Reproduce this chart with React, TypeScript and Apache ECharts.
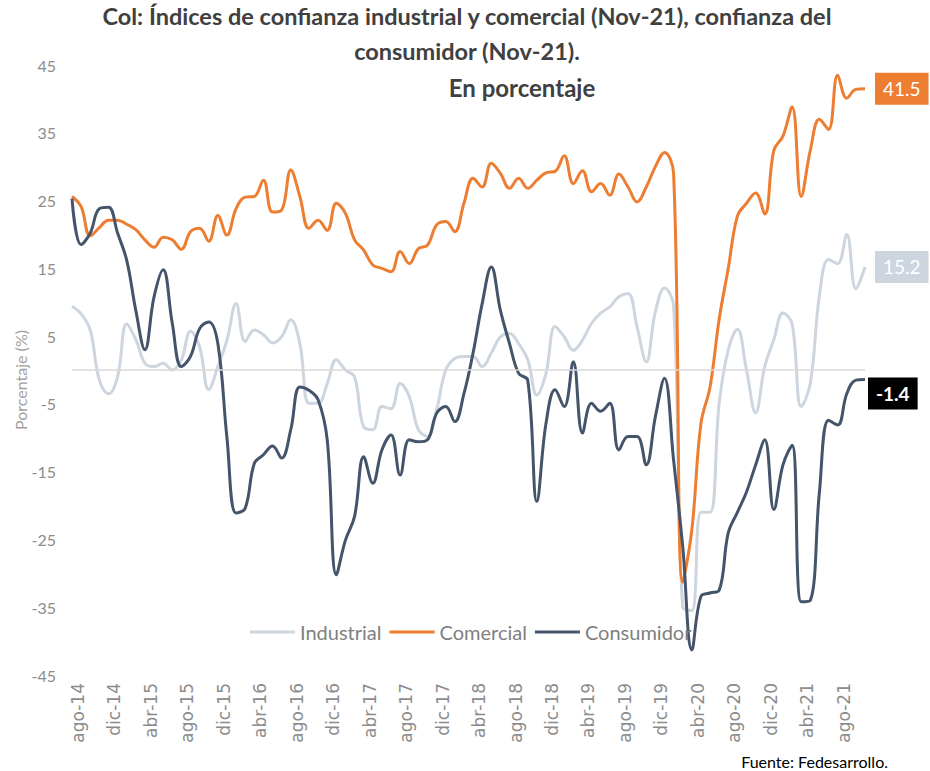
import React, { useEffect, useRef } from "react";
import * as echarts from "echarts";

const MONTHS = ["ene", "feb", "mar", "abr", "may", "jun", "jul", "ago", "sep", "oct", "nov", "dic"];
// ago-14 ... nov-21 (88 months)
const categories: string[] = [];
for (let k = 0; k < 88; k++) {
  const m = (7 + k) % 12;
  const y = 14 + Math.floor((7 + k) / 12);
  categories.push(`${MONTHS[m]}-${y}`);
}

const yTicks = [-45, -35, -25, -15, -5, 5, 15, 25, 35, 45];

const industrial = [
  9.4, 8.3, 5.9, -1.5, -3.5, -1.0, 6.8, 4.5, 1.0, 0.5,
  1.0, 0.0, 1.5, 5.7, 3.4, -2.9, 0.5, 4.4, 9.8, 4.2,
  5.9, 5.2, 4.0, 4.9, 7.4, 3.9, -4.9, -4.9, -2.0, 1.5,
  0.0, -1.0, -8.4, -8.8, -5.4, -5.7, -2.0, -3.9, -8.8, -9.8,
  -5.9, 0.0, 1.7, 2.0, 2.0, 0.5, 2.5, 4.9, 5.4, 3.9,
  1.5, -3.7, -0.5, 6.4, 4.9, 2.9, 4.4, 6.9, 8.4, 9.3,
  10.8, 11.3, 6.3, 1.2, 8.6, 12.1, 9.5, -35.0, -35.5, -21.0,
  -21.0, -5.0, 3.0, 6.0, 0.0, -6.3, 0.5, 4.5, 8.4, 6.8,
  -5.4, -2.0, 11.0, 16.3, 15.7, 20.0, 12.0, 15.2,
];

const comercial = [
  25.6, 24.1, 19.8, 21.0, 22.1, 22.1, 21.5, 20.7, 19.2, 18.1,
  19.6, 19.2, 17.8, 20.4, 20.9, 19.0, 22.8, 19.9, 23.8, 25.5,
  25.6, 28.0, 23.3, 23.6, 29.5, 25.6, 20.9, 22.1, 20.6, 24.6,
  23.1, 19.2, 17.7, 15.5, 15.0, 14.5, 17.5, 15.7, 17.9, 18.4,
  21.4, 21.9, 20.4, 24.6, 28.3, 27.0, 30.5, 29.0, 26.8, 28.3,
  26.8, 28.0, 29.1, 29.3, 31.6, 27.5, 29.4, 26.3, 27.5, 25.8,
  28.9, 27.0, 24.8, 27.0, 30.0, 32.1, 29.0, -31.3, -23.6, -7.9,
  -2.5, 7.5, 15.0, 22.7, 24.6, 26.1, 23.0, 32.4, 34.5, 38.8,
  25.6, 32.4, 37.0, 35.5, 43.5, 40.1, 41.4, 41.5,
];

const consumidor = [
  25.3, 18.5, 20.2, 23.8, 24.0, 20.2, 16.2, 8.8, 3.0, 10.8,
  14.8, 6.9, 0.5, 2.0, 6.1, 7.1, 3.9, -10.0, -21.1, -20.4,
  -13.8, -12.5, -11.2, -13.0, -8.8, -2.5, -3.0, -4.4, -10.3, -30.2,
  -25.1, -21.6, -12.8, -16.7, -11.8, -9.6, -15.5, -10.3, -10.6, -10.3,
  -6.4, -5.4, -7.6, -3.5, 2.5, 9.8, 15.2, 8.8, 3.9, -0.5,
  -1.5, -19.4, -7.9, -2.9, -5.4, 1.2, -9.3, -4.9, -6.1, -4.9,
  -11.8, -9.8, -9.8, -14.0, -6.9, -1.2, -13.3, -26.0, -41.3, -33.4,
  -32.9, -32.5, -24.0, -21.0, -18.0, -14.0, -10.3, -20.6, -14.0, -11.1,
  -34.2, -34.0, -18.0, -7.4, -8.1, -3.5, -1.5, -1.4,
];

const COLORS = { industrial: "#CDD5DF", comercial: "#ED7D31", consumidor: "#44546A" };
const FONT = "Lato, 'Noto Sans', sans-serif";

export default function App() {
  const ref = useRef<HTMLDivElement>(null);
  useEffect(() => {
    if (!ref.current) return;
    const chart = echarts.init(ref.current, null, { renderer: "svg" });
    const endLabel = (bg: string, extra: any = {}) => ({
      show: true,
      formatter: (p: any) => Number(p.value).toFixed(1),
      color: "#ffffff",
      backgroundColor: bg,
      padding: [7, 8, 6, 8],
      fontSize: 19,
      fontFamily: FONT,
      distance: 10,
      ...extra,
    });
    chart.setOption({
      animation: false,
      backgroundColor: "#ffffff",
      textStyle: { fontFamily: FONT },
      grid: { left: 72, right: 65, top: 65, bottom: 96 },
      legend: {
        data: ["Industrial", "Comercial", "Consumidor"],
        left: 245,
        top: 617,
        icon: "rect",
        itemWidth: 45,
        itemHeight: 3,
        itemGap: 8,
        textStyle: { fontSize: 20, color: "#808080", fontFamily: FONT },
      },
      xAxis: {
        type: "category",
        data: categories,
        boundaryGap: false,
        axisLine: { show: false },
        axisTick: { show: false },
        splitLine: { show: false },
        axisLabel: {
          interval: 3,
          rotate: 90,
          margin: 8,
          fontSize: 17,
          lineHeight: 12,
          verticalAlign: "top",
          color: "#8c8c8c",
          fontFamily: "'DejaVu Sans', sans-serif",
        },
      },
      yAxis: {
        type: "value",
        min: -45,
        max: 45,
        interval: 10,
        axisLine: { show: false },
        axisTick: { show: false },
        splitLine: { show: false },
        axisLabel: { fontSize: 16, color: "#8c8c8c", margin: 16, fontFamily: FONT },
      },
      series: [
        {
          name: "Industrial",
          type: "line",
          data: industrial,
          smooth: 0.4,
          showSymbol: false,
          symbol: "none",
          lineStyle: { width: 3, color: COLORS.industrial },
          itemStyle: { color: COLORS.industrial },
          endLabel: endLabel(COLORS.industrial),
          markLine: {
            silent: true,
            symbol: "none",
            label: { show: false },
            lineStyle: { color: "#D9D9D9", width: 1.5, type: "solid" },
            data: [{ yAxis: 0 }],
          },
        },
        {
          name: "Comercial",
          type: "line",
          data: comercial,
          smooth: 0.4,
          showSymbol: false,
          symbol: "none",
          lineStyle: { width: 3, color: COLORS.comercial },
          itemStyle: { color: COLORS.comercial },
          endLabel: endLabel(COLORS.comercial),
        },
        {
          name: "Consumidor",
          type: "line",
          data: consumidor,
          smooth: 0.4,
          showSymbol: false,
          symbol: "none",
          lineStyle: { width: 3, color: COLORS.consumidor },
          itemStyle: { color: COLORS.consumidor },
          endLabel: endLabel("#000000", { fontWeight: "bold", distance: 3, offset: [0, 14] }),
        },
      ],
      graphic: [
        {
          type: "text",
          x: 467,
          y: -2,
          style: {
            text: "Col: Índices de confianza industrial y comercial (Nov-21), confianza del\nconsumidor (Nov-21).",
            textAlign: "center",
            fill: "#404040",
            font: `bold 23.5px ${FONT}`,
            lineHeight: 35,
          },
        },
        {
          type: "text",
          x: 522,
          y: 75,
          style: {
            text: "En porcentaje",
            textAlign: "center",
            fill: "#404040",
            font: `bold 24px ${FONT}`,
          },
        },
        {
          type: "text",
          x: 20,
          y: 380,
          rotation: Math.PI / 2,
          style: {
            text: "Porcentaje (%)",
            textAlign: "center",
            textVerticalAlign: "middle",
            fill: "#a0a0a0",
            font: `16px ${FONT}`,
          },
        },
        {
          type: "text",
          x: 888,
          y: 753,
          style: {
            text: "Fuente: Fedesarrollo.",
            textAlign: "right",
            fill: "#000000",
            font: `16px ${FONT}`,
          },
        },
      ],
    });
    return () => chart.dispose();
  }, []);
  return (
    <div
      ref={ref}
      style={{ position: "absolute", left: 0, top: 0, width: 930, height: 771 }}
    />
  );
}
